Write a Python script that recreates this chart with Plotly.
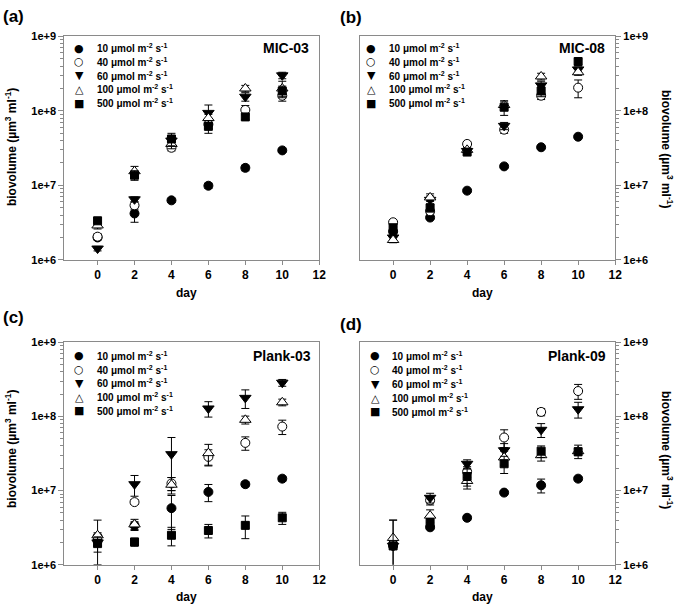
import plotly.graph_objects as go

W, H = 685, 610

# ---------------- data ----------------
days = [0, 2, 4, 6, 8, 10]
x_ticks = [0, 2, 4, 6, 8, 10, 12]
y_ticks = [1e6, 1e7, 1e8, 1e9]
y_ticktext = ["1e+6", "1e+7", "1e+8", "1e+9"]
light_levels = ["10", "40", "60", "100", "500"]
panel_names = ["MIC-03", "MIC-08", "Plank-03", "Plank-09"]
panel_letters = ["(a)", "(b)", "(c)", "(d)"]

# MIC-03
mic03_10 = [2.0e6, 4.2e6, 6.3e6, 9.9e6, 1.72e7, 2.95e7]
mic03_10_err = [0.1e6, 1.0e6, 0.4e6, 0.8e6, 1.5e6, 1.5e6]
mic03_40 = [2.05e6, 5.4e6, 3.2e7, 6.6e7, 1.03e8, 1.6e8]
mic03_40_err = [0.2e6, 0.6e6, 3e6, 8e6, 1.5e7, 2.5e7]
mic03_60 = [1.42e6, 6.5e6, 4.0e7, 9.4e7, 1.55e8, 3.0e8]
mic03_60_err = [0.1e6, 0.5e6, 5e6, 2.6e7, 2.0e7, 3e7]
mic03_100 = [2.9e6, 1.55e7, 3.6e7, 8.0e7, 2.0e8, 2.0e8]
mic03_100_err = [0.3e6, 2.5e6, 5e6, 1.0e7, 2.0e7, 5e7]
mic03_500 = [3.35e6, 1.37e7, 4.2e7, 6.2e7, 8.3e7, 1.85e8]
mic03_500_err = [0.3e6, 2e6, 8e6, 1.2e7, 6e6, 3e7]

# MIC-08
mic08_10 = [2.4e6, 3.7e6, 8.5e6, 1.8e7, 3.25e7, 4.5e7]
mic08_10_err = [0.1e6, 0.2e6, 0.4e6, 0.9e6, 1.5e6, 2e6]
mic08_40 = [3.2e6, 4.5e6, 3.6e7, 5.6e7, 1.6e8, 2.05e8]
mic08_40_err = [0.2e6, 0.4e6, 2e6, 6e6, 1.8e7, 5.5e7]
mic08_60 = [2.0e6, 6.4e6, 2.9e7, 6.3e7, 2.2e8, 3.6e8]
mic08_60_err = [0.15e6, 0.8e6, 2e6, 7e6, 3e7, 3e7]
mic08_100 = [1.85e6, 6.9e6, 3.0e7, 1.2e8, 2.9e8, 3.3e8]
mic08_100_err = [0.15e6, 0.8e6, 2e6, 1.2e7, 3e7, 3e7]
mic08_500 = [2.7e6, 5.0e6, 2.8e7, 1.12e8, 1.85e8, 4.6e8]
mic08_500_err = [0.3e6, 0.6e6, 2e6, 2.5e7, 3e7, 4e7]

# Plank-03
plank03_10 = [2.1e6, 3.4e6, 5.8e6, 9.6e6, 1.22e7, 1.45e7]
plank03_10_err = [0.3e6, 0.4e6, 2.8e6, 2.5e6, 0.9e6, 1.1e6]
plank03_40 = [2.4e6, 7.0e6, 1.25e7, 2.85e7, 4.4e7, 7.3e7]
plank03_40_err = [0.3e6, 0.5e6, 2.5e6, 7e6, 9e6, 1.6e7]
plank03_60 = [2.0e6, 1.22e7, 3.1e7, 1.28e8, 1.78e8, 2.85e8]
plank03_60_err = [0.2e6, 3.8e6, 2.1e7, 3e7, 5e7, 3e7]
plank03_100 = [2.5e6, 3.5e6, 1.2e7, 3.2e7, 9.0e7, 1.55e8]
plank03_100_err = [1.5e6, 0.6e6, 3e6, 1e7, 1.1e7, 1.6e7]
plank03_500 = [1.93e6, 2.03e6, 2.5e6, 2.9e6, 3.4e6, 4.3e6]
plank03_500_err = [0.45e6, 0.25e6, 0.7e6, 0.6e6, 1.15e6, 0.8e6]

# Plank-09
plank09_10 = [1.8e6, 3.2e6, 4.3e6, 9.4e6, 1.18e7, 1.45e7]
plank09_10_err = [0.1e6, 0.2e6, 0.3e6, 0.6e6, 2.5e6, 1.0e6]
plank09_40 = [1.9e6, 7.4e6, 1.8e7, 5.2e7, 1.15e8, 2.2e8]
plank09_40_err = [0.2e6, 1.0e6, 3e6, 1.4e7, 1.3e7, 5e7]
plank09_60 = [1.8e6, 8.0e6, 2.3e7, 3.5e7, 6.6e7, 1.25e8]
plank09_60_err = [0.2e6, 1.2e6, 3e6, 8e6, 1.4e7, 3e7]
plank09_100 = [2.3e6, 4.6e6, 1.35e7, 2.8e7, 3.0e7, 3.4e7]
plank09_100_err = [1.7e6, 0.9e6, 3e6, 6e6, 5e6, 7e6]
plank09_500 = [1.8e6, 3.7e6, 1.55e7, 2.3e7, 3.4e7, 3.35e7]
plank09_500_err = [2.2e6, 0.5e6, 4e6, 6e6, 6e6, 4e6]

panels = [
    [(mic03_10, mic03_10_err), (mic03_40, mic03_40_err), (mic03_60, mic03_60_err),
     (mic03_100, mic03_100_err), (mic03_500, mic03_500_err)],
    [(mic08_10, mic08_10_err), (mic08_40, mic08_40_err), (mic08_60, mic08_60_err),
     (mic08_100, mic08_100_err), (mic08_500, mic08_500_err)],
    [(plank03_10, plank03_10_err), (plank03_40, plank03_40_err), (plank03_60, plank03_60_err),
     (plank03_100, plank03_100_err), (plank03_500, plank03_500_err)],
    [(plank09_10, plank09_10_err), (plank09_40, plank09_40_err), (plank09_60, plank09_60_err),
     (plank09_100, plank09_100_err), (plank09_500, plank09_500_err)],
]

# ---------------- styles ----------------
FONT = "Arial, Liberation Sans, sans-serif"
GRAY = "#8a8a8a"
marker_styles = [
    dict(symbol="circle", size=9, color="black", line=dict(color="black", width=1)),
    dict(symbol="circle", size=9, color="white", line=dict(color="black", width=1)),
    dict(symbol="triangle-down", size=10, color="black", line=dict(color="black", width=1)),
    dict(symbol="triangle-up", size=10, color="white", line=dict(color="black", width=1)),
    dict(symbol="square", size=8, color="black", line=dict(color="black", width=1)),
]
legend_glyphs = ["●", "○", "▼", "△", "■"]


def px(x):
    return x / W


def py(y):
    return 1 - y / H


x_domains = [(65 / W, 322.5 / W), (363.5 / W, 621.5 / W),
             (65 / W, 322.5 / W), (363.5 / W, 621.5 / W)]
y_domains = [(py(259), py(31)), (py(259), py(31)),
             (py(570), py(343)), (py(570), py(343))]

minor_vals = [m * 10 ** e for e in range(6, 9) for m in range(2, 10)]

fig = go.Figure()
layout = dict(
    width=W, height=H, margin=dict(l=0, r=0, t=0, b=0),
    paper_bgcolor="white", plot_bgcolor="white", showlegend=False,
    font=dict(family=FONT, color="black"),
)

for i, series in enumerate(panels):
    n = "" if i == 0 else str(i + 1)
    xa, ya = "x" + n, "y" + n
    for j, (vals, err) in enumerate(series):
        fig.add_trace(go.Scatter(
            x=days, y=vals, mode="markers", xaxis=xa, yaxis=ya,
            marker=marker_styles[j],
            error_y=dict(type="data", array=err, color="black", thickness=1, width=4),
            name=light_levels[j] + " µmol m-2 s-1",
        ))
    right = i in (1, 3)
    layout["xaxis" + n] = dict(
        domain=x_domains[i], anchor=ya, range=[-1.8, 12],
        tickvals=x_ticks, ticks="outside", ticklen=4, tickcolor=GRAY,
        showline=True, linecolor=GRAY, linewidth=1, mirror=True,
        showgrid=False, zeroline=False,
        tickfont=dict(size=12, weight="bold", family=FONT),
    )
    layout["yaxis" + n] = dict(
        domain=y_domains[i], anchor=xa, type="log", range=[6, 9],
        tickvals=y_ticks, ticktext=y_ticktext, side="right" if right else "left",
        ticks="outside", ticklen=5, tickcolor=GRAY,
        minor=dict(ticks="outside", ticklen=3, tickcolor=GRAY, tickvals=minor_vals),
        showline=True, linecolor=GRAY, linewidth=1, mirror=True,
        showgrid=False, zeroline=False,
        tickfont=dict(size=11, weight="bold", family=FONT),
    )

annotations = []
# axis titles and panel labels
ytitle = "biovolume (µm<sup>3</sup> ml<sup>-1</sup>)"
title_pos = [(11, 144, -90), (674, 146, 90), (11, 452, -90), (674, 453, 90)]
day_pos = [(188, 293), (487, 293), (188, 603), (487, 603)]
letter_pos = [(1, 11), (341, 12), (1, 318), (341, 325)]
name_pos = [(314, 43), (613, 43), (316, 357), (614, 357)]
legend_marker_x = [80, 375, 80, 379]
legend_text_x = [96, 391, 96, 394]
legend_rows = [[43, 57, 71, 85, 99], [43, 57, 71, 85, 99],
               [357, 371, 385, 399, 413], [357, 371, 386, 400, 414]]

for i in range(4):
    tx, ty, ang = title_pos[i]
    annotations.append(dict(text=ytitle, x=px(tx), y=py(ty), xref="paper", yref="paper",
                            showarrow=False, textangle=ang, xanchor="center", yanchor="middle",
                            font=dict(size=12, weight="bold", family=FONT)))
    dx, dy = day_pos[i]
    annotations.append(dict(text="day", x=px(dx), y=py(dy), xref="paper", yref="paper",
                            showarrow=False, xanchor="center", yanchor="middle",
                            font=dict(size=12, weight="bold", family=FONT)))
    lx, ly = letter_pos[i]
    annotations.append(dict(text=panel_letters[i], x=px(lx), y=py(ly), xref="paper", yref="paper",
                            showarrow=False, xanchor="left", yanchor="middle",
                            font=dict(size=17, weight="bold", family=FONT)))
    nx, ny = name_pos[i]
    annotations.append(dict(text=panel_names[i], x=px(nx), y=py(ny), xref="paper", yref="paper",
                            showarrow=False, xanchor="right", yanchor="middle",
                            font=dict(size=14, weight="bold", family=FONT)))
    for j in range(5):
        ry = legend_rows[i][j]
        annotations.append(dict(text=legend_glyphs[j], x=px(legend_marker_x[i]), y=py(ry),
                                xref="paper", yref="paper", showarrow=False,
                                xanchor="center", yanchor="middle",
                                font=dict(size=11, family="DejaVu Sans", color="black")))
        annotations.append(dict(text=light_levels[j] + " μmol m<sup>-2</sup> s<sup>-1</sup>",
                                x=px(legend_text_x[i]), y=py(ry), xref="paper", yref="paper",
                                showarrow=False, xanchor="left", yanchor="middle",
                                font=dict(size=10, weight="bold", family=FONT)))

layout["annotations"] = annotations
fig.update_layout(**layout)
fig.write_html(
    "out.html",
    config={"displayModeBar": False},
    post_script="document.body.style.margin='0';document.body.style.overflow='hidden';",
)
